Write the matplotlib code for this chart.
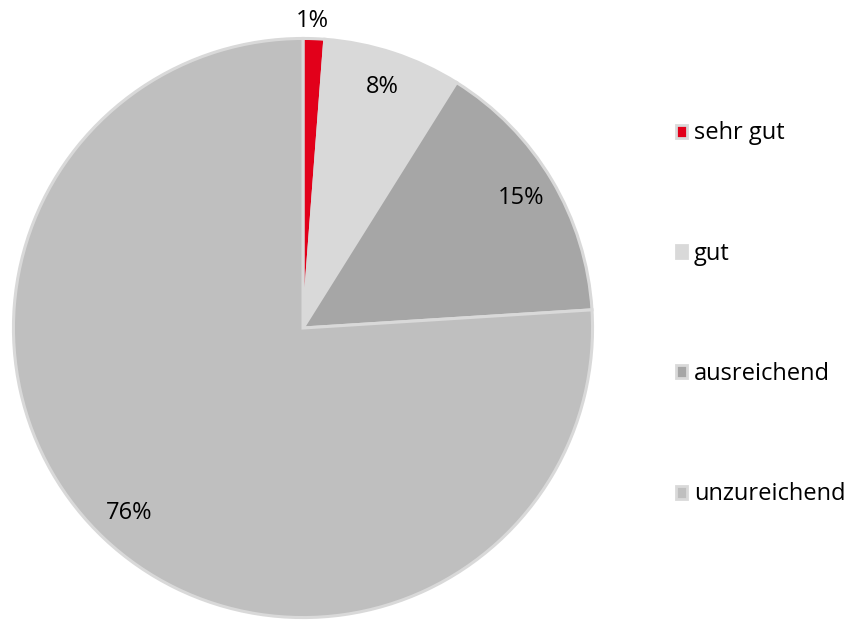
import matplotlib.pyplot as plt
import numpy as np
from matplotlib.patches import Patch

# Data
categories = ['sehr gut', 'gut', 'ausreichend', 'unzureichend']
shares = [1.2, 7.7, 15.1, 76.0]
colors = ['#e2001a', '#d9d9d9', '#a6a6a6', '#bfbfbf']
edge = '#d9d9d9'

plt.rcParams['font.family'] = ['Open Sans', 'DejaVu Sans']

fig = plt.figure(figsize=(8.54, 6.21), dpi=100)
ax = fig.add_axes([0.01405, 0.0032, 0.6815, 0.9372])

wedges, texts, autotexts = ax.pie(
    shares, colors=colors, startangle=90, counterclock=False,
    radius=0.995, autopct='%.0f%%', pctdistance=0.875,
    wedgeprops=dict(edgecolor=edge, linewidth=2.2),
    textprops=dict(fontsize=17, color='black'))

# the tiny slice gets its label outside the pie
t = autotexts[0]
ang = np.deg2rad(90 - 1.8)
t.set_position((1.055 * np.cos(ang), 1.055 * np.sin(ang)))

ax.set_xlim(-1, 1)
ax.set_ylim(-1, 1)
ax.set_aspect('equal')

handles = [Patch(facecolor=c, edgecolor=edge, linewidth=2) for c in colors]
fig.legend(handles, categories, loc='center left', bbox_to_anchor=(0.792, 0.4945),
           frameon=False, fontsize=17, handlelength=0.47, handleheight=0.47,
           handletextpad=0.28, labelspacing=4.08, borderpad=0, borderaxespad=0)

fig.savefig('out.png', dpi=100)
